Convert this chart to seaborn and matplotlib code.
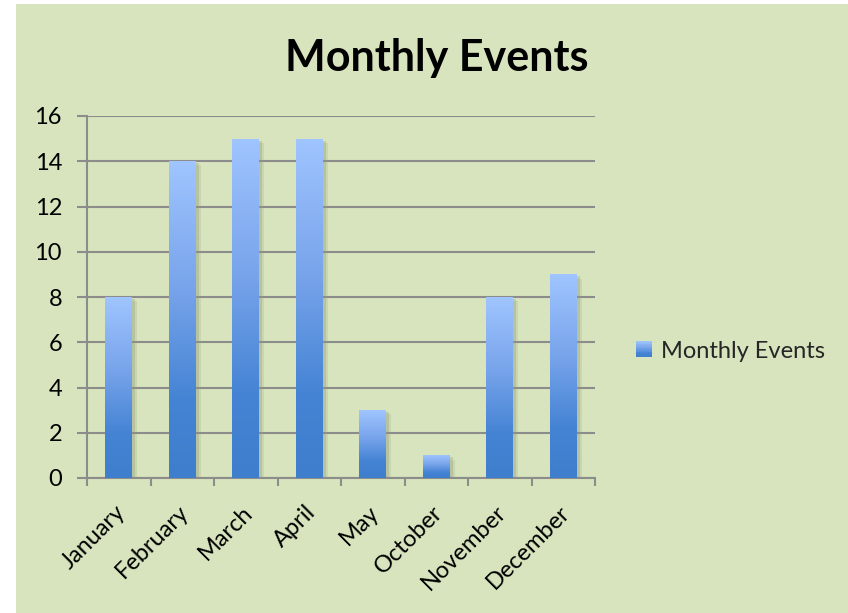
import matplotlib
matplotlib.use("Agg")
import matplotlib.pyplot as plt
import seaborn as sns
import numpy as np
import pandas as pd
from matplotlib.colors import LinearSegmentedColormap
from matplotlib.patches import Rectangle
from matplotlib.legend_handler import HandlerPatch
import matplotlib.patheffects as pe
import matplotlib.transforms as mtransforms

months = ["January", "February", "March", "April", "May", "October", "November", "December"]
events = [8, 14, 15, 15, 3, 1, 8, 9]
y_ticks = [0, 2, 4, 6, 8, 10, 12, 14, 16]
series_name = "Monthly Events"

sns.set_theme(style="white")
plt.rcParams["font.family"] = ["Lato", "DejaVu Sans"]

bg = "#D7E4BD"
grid_c = "#8C8C8C"
cmap = LinearSegmentedColormap.from_list(
    "bar", [(0.0, "#3E7ECD"), (0.25, "#4584D4"), (0.6, "#78A4EB"), (1.0, "#A0C5FF")])

fig = plt.figure(figsize=(8.48, 6.13), dpi=100, facecolor="white")
fig.patches.append(Rectangle((16 / 848, 0), 1, 1 - 4 / 613, transform=fig.transFigure,
                             facecolor=bg, edgecolor="none", zorder=-10))

ax = fig.add_axes([87 / 848, 1 - 478 / 613, 508 / 848, (478 - 116) / 613])
ax.set_facecolor("none")

df = pd.DataFrame({"month": months, "events": events})
sns.barplot(data=df, x="month", y="events", ax=ax, width=0.425, color="#6F9DE6",
            saturation=1, errorbar=None)

grad = np.linspace(0, 1, 256).reshape(-1, 1)
for p in ax.patches:
    x0, y0 = p.get_x(), p.get_y()
    w, h = p.get_width(), p.get_height()
    p.set_path_effects([
        pe.SimplePatchShadow(offset=(3.5, -3), shadow_rgbFace="#8E9A78", alpha=0.18),
        pe.SimplePatchShadow(offset=(2, -1.5), shadow_rgbFace="#8E9A78", alpha=0.3),
    ])
    p.set_facecolor("none")
    p.set_edgecolor("none")
    im = ax.imshow(grad, extent=[x0, x0 + w, y0, y0 + h], origin="lower", aspect="auto",
                   cmap=cmap, zorder=3, interpolation="bilinear")
    im.set_clip_path(p)

ax.set_xlim(-0.5, len(months) - 0.5)
ax.set_ylim(0, 16)
ax.set_yticks(y_ticks)
ax.set_xticks(np.arange(len(months)))
ax.set_xticks(np.arange(len(months) + 1) - 0.5, minor=True)
ax.set_axisbelow(True)
ax.yaxis.grid(True, color=grid_c, linewidth=1.5)
ax.xaxis.grid(False)
for s in ["top", "right"]:
    ax.spines[s].set_visible(False)
for s in ["left", "bottom"]:
    ax.spines[s].set_color(grid_c)
    ax.spines[s].set_linewidth(1.5)
ax.tick_params(axis="y", which="major", length=7, width=1.5, color=grid_c, direction="out",
               left=True, labelsize=17, pad=11, labelcolor="black")
ax.tick_params(axis="x", which="major", length=0, labelsize=17, pad=17, labelcolor="black")
ax.tick_params(axis="x", which="minor", length=6, width=1.5, color=grid_c, direction="out",
               bottom=True)
ax.set_xticklabels(months, rotation=45, ha="right", rotation_mode="anchor")
shift = mtransforms.ScaledTranslation(-4 / 100, 0, fig.dpi_scale_trans)
for lbl in ax.get_xticklabels():
    lbl.set_transform(lbl.get_transform() + shift)
ax.set_xlabel("")
ax.set_ylabel("")

fig.text(437 / 848, 1 - 71 / 613, "Monthly Events", ha="center", va="baseline",
         fontsize=31, fontweight="bold", color="black")


class GradHandler(HandlerPatch):
    def create_artists(self, legend, orig_handle, xdescent, ydescent, width, height, fontsize, trans):
        n = 20
        side = 16 * 72 / 100
        x = -xdescent + (width - side) / 2
        y = -ydescent + (height - side) / 2
        arts = []
        for i in range(n):
            r = Rectangle((x, y + side * i / n), side, side / n + 0.3,
                          facecolor=cmap((i + 0.5) / n), edgecolor="none", transform=trans)
            arts.append(r)
        return arts


handle = Rectangle((0, 0), 1, 1, facecolor="#6F9DE6")
fig.legend([handle], [series_name], handler_map={Rectangle: GradHandler()},
           loc="center left", bbox_to_anchor=(636 / 848, 1 - 351 / 613), frameon=False,
           fontsize=17, handlelength=0.7, handletextpad=0.35, borderaxespad=0, borderpad=0)

fig.savefig("out.png", dpi=100, facecolor="white")
